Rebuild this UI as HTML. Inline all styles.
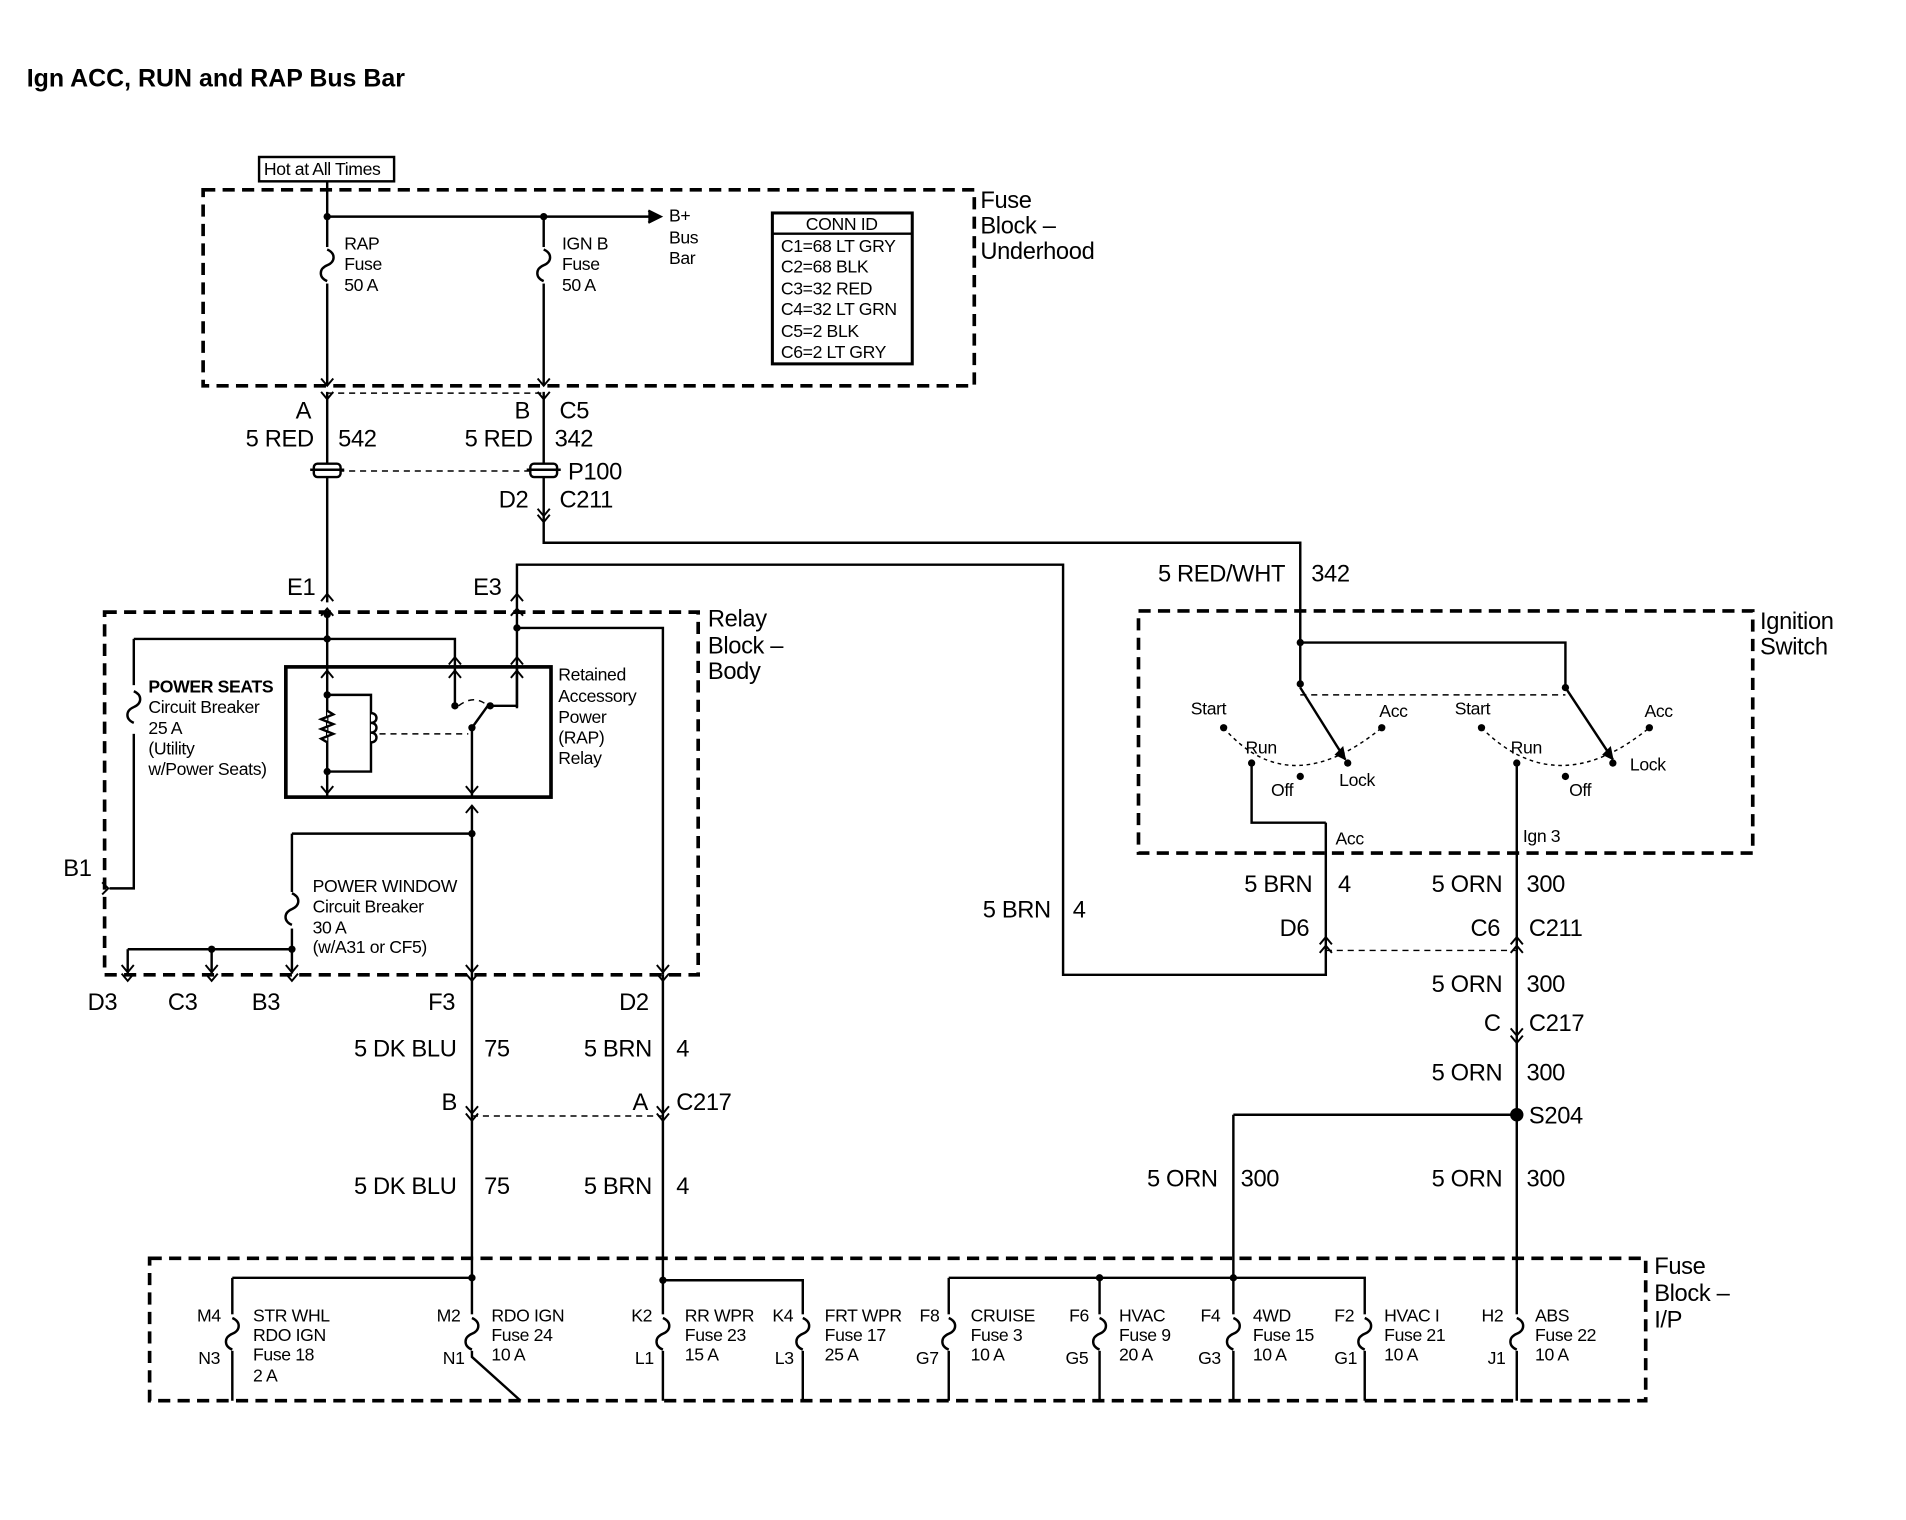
<!DOCTYPE html>
<html><head><meta charset="utf-8">
<style>
html,body{margin:0;padding:0;background:#fff;}
svg{display:block;}
text{font-family:"Liberation Sans",sans-serif;fill:#000;}
.s{font-size:14.5px;letter-spacing:-0.3px;}
.b{font-size:19.5px;letter-spacing:-0.3px;}
.t{font-size:20.5px;font-weight:bold;}
</style></head><body>
<svg width="1906" height="1520" viewBox="0 0 1567 1249" preserveAspectRatio="none" xmlns="http://www.w3.org/2000/svg">
<defs>
<path id="f" d="M0,0 c7,3 7,10 0,13 c-7,3 -7,10 0,13" fill="none" stroke="#000" stroke-width="2"/>
<path id="cd" d="M-5,-6 L0,0 L5,-6" fill="none" stroke="#000" stroke-width="1.6"/>
<path id="cu" d="M-5,6 L0,0 L5,6" fill="none" stroke="#000" stroke-width="1.6"/>
</defs>
<rect width="1567" height="1249" fill="#fff"/>
<text x="22" y="71" class="t">Ign ACC, RUN and RAP Bus Bar</text>

<g fill="none" stroke="#000">
<rect x="167" y="156" width="634" height="161" stroke-width="3" stroke-dasharray="10,6"/>
<rect x="86" y="503" width="488" height="298" stroke-width="3" stroke-dasharray="10,6"/>
<rect x="936" y="502" width="505" height="199" stroke-width="3" stroke-dasharray="10,6"/>
<rect x="123" y="1034" width="1230" height="117" stroke-width="3" stroke-dasharray="10,6"/>
<rect x="213" y="129" width="111" height="20" stroke-width="2"/>
<rect x="635" y="175" width="115" height="124" stroke-width="2.5"/>
<line x1="635" y1="192" x2="750" y2="192" stroke-width="2"/>
<rect x="235" y="548" width="218" height="107" stroke-width="3"/>

<g stroke-width="2">
<path d="M269,149 V317"/><path d="M269,178 H540"/><path d="M533,173 L543,178 L533,183" fill="#000"/>
<path d="M447,178 V317"/>
<path d="M269,322 V495"/><path d="M447,322 V446 H1069 V528"/>
<path d="M425,490 V464 H874 V801 H1090 V676"/>
<path d="M269,505 V655"/><path d="M110,525 H374 V548"/><path d="M110,525 V730 H90"/>
<path d="M425,490 V582 M425,516 H545 V801"/>
<path d="M269,571 H305 V634 H269"/>
<path d="M374,548 V580"/>
<path d="M425,548 V580 H403"/>
<path d="M388,598 V655"/><path d="M388,598 L401,580"/>
<path d="M388,662 V1050"/><path d="M240,685 H388"/><path d="M240,685 V800"/>
<path d="M105,780 H240"/><path d="M105,780 V800"/><path d="M174,780 V800"/>
<path d="M545,801 V1050"/>
<path d="M1069,528 H1287 V565"/><path d="M1069,528 V565"/>
<path d="M1069,565 L1106,624"/><path d="M1287,565 L1326,624"/>
<path d="M1029,627 V676 H1090"/>
<path d="M1247,627 V1151"/>
<path d="M1014,916 H1247"/><path d="M1014,916 V1151"/>
<path d="M191,1050 H388 M191,1050 V1151"/><path d="M388,1050 V1115 L428,1151"/>
<path d="M545,1052 H660 V1151 M545,1052 V1151"/>
<path d="M780,1050 H1122 V1151 M780,1050 V1151 M904,1050 V1151"/>
</g>
<path d="M1098,620 L1106,624 L1104,614 Z" fill="#000" stroke-width="1"/>
<path d="M1318,620 L1326,624 L1324,614 Z" fill="#000" stroke-width="1"/>
<path d="M269,584 l5,3 l-10,4 l10,4 l-10,4 l10,4 l-10,4 l5,3" fill="#fff" stroke-width="2"/>
<path d="M305,586 c6,0 6,8 0,8 c6,0 6,8 0,8 c6,0 6,8 0,8" fill="#fff" stroke-width="2"/>
<g stroke-width="1.2" stroke-dasharray="5,4">
<path d="M269,323 H447"/><path d="M269,387 H447"/><path d="M312,603 H385"/>
<path d="M1069,571 H1287"/><path d="M1090,781 H1247"/><path d="M388,917 H545"/>
<path d="M377,580 q13,-10 24,0"/>
</g>
<g stroke-width="1.2" stroke-dasharray="3,3">
<path d="M1006,598 Q1060,660 1136,598"/><path d="M1218,598 Q1280,660 1356,598"/>
</g>
<g stroke-width="2"><rect x="258" y="381" width="22" height="11" rx="3" fill="#fff"/><rect x="436" y="381" width="22" height="11" rx="3" fill="#fff"/>
<path d="M255,386 H283 M433,386 H461"/></g>
</g>
<g fill="#fff">
<rect x="263" y="203" width="12" height="30"/><rect x="441" y="203" width="12" height="30"/>
<rect x="104" y="563" width="12" height="40"/><rect x="234" y="733" width="12" height="30"/>
</g>
<use href="#f" x="269" y="205"/><use href="#f" x="447" y="205"/>
<use href="#f" x="110" y="568"/><use href="#f" x="240" y="734"/>
<g fill="#fff">
<rect x="185" y="1080" width="12" height="30"/><rect x="382" y="1080" width="12" height="30"/><rect x="539" y="1080" width="12" height="30"/><rect x="654" y="1080" width="12" height="30"/><rect x="774" y="1080" width="12" height="30"/><rect x="898" y="1080" width="12" height="30"/><rect x="1008" y="1080" width="12" height="30"/><rect x="1116" y="1080" width="12" height="30"/><rect x="1241" y="1080" width="12" height="30"/>
</g>
<use href="#f" x="191" y="1083"/><use href="#f" x="388" y="1083"/><use href="#f" x="545" y="1083"/><use href="#f" x="660" y="1083"/><use href="#f" x="780" y="1083"/><use href="#f" x="904" y="1083"/><use href="#f" x="1014" y="1083"/><use href="#f" x="1122" y="1083"/><use href="#f" x="1247" y="1083"/>
<use href="#cd" x="269" y="317"/><use href="#cd" x="447" y="317"/>
<use href="#cd" x="269" y="328"/><use href="#cd" x="447" y="328"/>
<use href="#cd" x="447" y="424"/><use href="#cd" x="447" y="429"/>
<use href="#cu" x="269" y="488"/><use href="#cu" x="269" y="500"/>
<use href="#cu" x="425" y="488"/><use href="#cu" x="425" y="500"/>
<use href="#cu" x="374" y="540"/><use href="#cu" x="425" y="540"/>
<use href="#cu" x="269" y="551"/><use href="#cu" x="374" y="551"/><use href="#cu" x="425" y="551"/>
<use href="#cd" x="269" y="652"/><use href="#cd" x="388" y="652"/>
<use href="#cu" x="388" y="662"/>
<path d="M84,725 L89,730 L84,735" fill="none" stroke="#000" stroke-width="1.6"/>
<use href="#cd" x="105" y="799"/><use href="#cd" x="174" y="799"/><use href="#cd" x="240" y="799"/><use href="#cd" x="388" y="799"/><use href="#cd" x="545" y="799"/>
<use href="#cd" x="105" y="806"/><use href="#cd" x="174" y="806"/><use href="#cd" x="240" y="806"/><use href="#cd" x="388" y="806"/><use href="#cd" x="545" y="806"/>
<use href="#cd" x="388" y="915"/><use href="#cd" x="545" y="915"/><use href="#cd" x="388" y="921"/><use href="#cd" x="545" y="921"/>
<use href="#cu" x="1090" y="770"/><use href="#cu" x="1247" y="770"/><use href="#cu" x="1090" y="777"/><use href="#cu" x="1247" y="777"/>
<use href="#cd" x="1247" y="851"/><use href="#cd" x="1247" y="857"/>
<g fill="#000">
<circle cx="269" cy="178" r="3"/><circle cx="447" cy="178" r="3"/>
<circle cx="269" cy="505" r="3"/><circle cx="269" cy="525" r="3"/><circle cx="425" cy="516" r="3"/>
<circle cx="269" cy="571" r="3"/><circle cx="269" cy="634" r="3"/><circle cx="374" cy="580" r="3"/><circle cx="403" cy="580" r="3"/><circle cx="388" cy="598" r="3"/>
<circle cx="388" cy="685" r="3"/><circle cx="240" cy="780" r="3"/><circle cx="174" cy="780" r="3"/>
<circle cx="1069" cy="528" r="3"/><circle cx="1069" cy="562" r="3"/><circle cx="1287" cy="565" r="3"/>
<circle cx="1006" cy="598" r="3"/><circle cx="1029" cy="627" r="3"/><circle cx="1069" cy="638" r="3"/><circle cx="1108" cy="627" r="3"/><circle cx="1136" cy="598" r="3"/>
<circle cx="1218" cy="598" r="3"/><circle cx="1247" cy="627" r="3"/><circle cx="1287" cy="638" r="3"/><circle cx="1326" cy="627" r="3"/><circle cx="1356" cy="598" r="3"/>
<circle cx="1247" cy="916" r="5.5"/>
<circle cx="388" cy="1050" r="3"/><circle cx="545" cy="1052" r="3"/><circle cx="904" cy="1050" r="3"/><circle cx="1014" cy="1050" r="3"/>
</g>

<text x="217" y="144" class="s">Hot at All Times</text>
<text class="b"><tspan x="806" y="171">Fuse</tspan><tspan x="806" y="192">Block –</tspan><tspan x="806" y="213">Underhood</tspan></text>
<text class="s"><tspan x="283" y="205">RAP</tspan><tspan x="283" y="222">Fuse</tspan><tspan x="283" y="239">50 A</tspan></text>
<text class="s"><tspan x="462" y="205">IGN B</tspan><tspan x="462" y="222">Fuse</tspan><tspan x="462" y="239">50 A</tspan></text>
<text class="s"><tspan x="550" y="182">B+</tspan><tspan x="550" y="200">Bus</tspan><tspan x="550" y="217">Bar</tspan></text>
<text x="692" y="189" class="s" text-anchor="middle">CONN ID</text>
<text class="s"><tspan x="642" y="207">C1=68 LT GRY</tspan><tspan x="642" y="224">C2=68 BLK</tspan><tspan x="642" y="242">C3=32 RED</tspan><tspan x="642" y="259">C4=32 LT GRN</tspan><tspan x="642" y="277">C5=2 BLK</tspan><tspan x="642" y="294">C6=2 LT GRY</tspan></text>
<g>
<text x="243" y="344" class="b">A</text><text x="423" y="344" class="b">B</text><text x="460" y="344" class="b">C5</text>
<text x="202" y="367" class="b">5 RED</text><text x="278" y="367" class="b">542</text>
<text x="382" y="367" class="b">5 RED</text><text x="456" y="367" class="b">342</text>
<text x="467" y="394" class="b">P100</text>
<text x="410" y="417" class="b">D2</text><text x="460" y="417" class="b">C211</text>
<text x="236" y="489" class="b">E1</text><text x="389" y="489" class="b">E3</text>
<text x="952" y="478" class="b">5 RED/WHT</text><text x="1078" y="478" class="b">342</text>
<text class="b"><tspan x="582" y="515">Relay</tspan><tspan x="582" y="537">Block –</tspan><tspan x="582" y="558">Body</tspan></text>
<text class="b"><tspan x="1447" y="517">Ignition</tspan><tspan x="1447" y="538">Switch</tspan></text>
<text x="52" y="720" class="b">B1</text>
<text x="72" y="830" class="b">D3</text><text x="138" y="830" class="b">C3</text><text x="207" y="830" class="b">B3</text>
<text x="352" y="830" class="b">F3</text><text x="509" y="830" class="b">D2</text>
<text x="291" y="868" class="b">5 DK BLU</text><text x="398" y="868" class="b">75</text>
<text x="480" y="868" class="b">5 BRN</text><text x="556" y="868" class="b">4</text>
<text x="363" y="912" class="b">B</text><text x="520" y="912" class="b">A</text><text x="556" y="912" class="b">C217</text>
<text x="291" y="981" class="b">5 DK BLU</text><text x="398" y="981" class="b">75</text>
<text x="480" y="981" class="b">5 BRN</text><text x="556" y="981" class="b">4</text>
<text x="1023" y="733" class="b">5 BRN</text><text x="1100" y="733" class="b">4</text>
<text x="1177" y="733" class="b">5 ORN</text><text x="1255" y="733" class="b">300</text>
<text x="808" y="754" class="b">5 BRN</text><text x="882" y="754" class="b">4</text>
<text x="1052" y="769" class="b">D6</text><text x="1209" y="769" class="b">C6</text><text x="1257" y="769" class="b">C211</text>
<text x="1177" y="815" class="b">5 ORN</text><text x="1255" y="815" class="b">300</text>
<text x="1220" y="847" class="b">C</text><text x="1257" y="847" class="b">C217</text>
<text x="1177" y="888" class="b">5 ORN</text><text x="1255" y="888" class="b">300</text>
<text x="1257" y="923" class="b">S204</text>
<text x="943" y="975" class="b">5 ORN</text><text x="1020" y="975" class="b">300</text>
<text x="1177" y="975" class="b">5 ORN</text><text x="1255" y="975" class="b">300</text>
<text class="b"><tspan x="1360" y="1047">Fuse</tspan><tspan x="1360" y="1069">Block –</tspan><tspan x="1360" y="1091">I/P</tspan></text>
</g>
<text class="s"><tspan x="122" y="569" font-weight="bold">POWER SEATS</tspan><tspan x="122" y="586">Circuit Breaker</tspan><tspan x="122" y="603">25 A</tspan><tspan x="122" y="620">(Utility</tspan><tspan x="122" y="637">w/Power Seats)</tspan></text>
<text class="s"><tspan x="459" y="559">Retained</tspan><tspan x="459" y="577">Accessory</tspan><tspan x="459" y="594">Power</tspan><tspan x="459" y="611">(RAP)</tspan><tspan x="459" y="628">Relay</tspan></text>
<text class="s"><tspan x="257" y="733">POWER WINDOW</tspan><tspan x="257" y="750">Circuit Breaker</tspan><tspan x="257" y="767">30 A</tspan><tspan x="257" y="783">(w/A31 or CF5)</tspan></text>
<text class="s" x="979" y="587">Start</text><text class="s" x="1024" y="619">Run</text><text class="s" x="1045" y="654">Off</text><text class="s" x="1101" y="646">Lock</text><text class="s" x="1134" y="589">Acc</text>
<text class="s" x="1196" y="587">Start</text><text class="s" x="1242" y="619">Run</text><text class="s" x="1290" y="654">Off</text><text class="s" x="1340" y="633">Lock</text><text class="s" x="1352" y="589">Acc</text>
<text class="s" x="1098" y="694">Acc</text><text class="s" x="1252" y="692">Ign 3</text>
<g class="s">
<text x="162" y="1086">M4</text><text x="163" y="1121">N3</text>
<text x="208" y="1086">STR WHL</text><text x="208" y="1102">RDO IGN</text><text x="208" y="1118">Fuse 18</text><text x="208" y="1135">2 A</text>
<text x="359" y="1086">M2</text><text x="364" y="1121">N1</text>
<text x="404" y="1086">RDO IGN</text><text x="404" y="1102">Fuse 24</text><text x="404" y="1118">10 A</text>
<text x="519" y="1086">K2</text><text x="522" y="1121">L1</text>
<text x="563" y="1086">RR WPR</text><text x="563" y="1102">Fuse 23</text><text x="563" y="1118">15 A</text>
<text x="635" y="1086">K4</text><text x="637" y="1121">L3</text>
<text x="678" y="1086">FRT WPR</text><text x="678" y="1102">Fuse 17</text><text x="678" y="1118">25 A</text>
<text x="756" y="1086">F8</text><text x="753" y="1121">G7</text>
<text x="798" y="1086">CRUISE</text><text x="798" y="1102">Fuse 3</text><text x="798" y="1118">10 A</text>
<text x="879" y="1086">F6</text><text x="876" y="1121">G5</text>
<text x="920" y="1086">HVAC</text><text x="920" y="1102">Fuse 9</text><text x="920" y="1118">20 A</text>
<text x="987" y="1086">F4</text><text x="985" y="1121">G3</text>
<text x="1030" y="1086">4WD</text><text x="1030" y="1102">Fuse 15</text><text x="1030" y="1118">10 A</text>
<text x="1097" y="1086">F2</text><text x="1097" y="1121">G1</text>
<text x="1138" y="1086">HVAC I</text><text x="1138" y="1102">Fuse 21</text><text x="1138" y="1118">10 A</text>
<text x="1218" y="1086">H2</text><text x="1223" y="1121">J1</text>
<text x="1262" y="1086">ABS</text><text x="1262" y="1102">Fuse 22</text><text x="1262" y="1118">10 A</text>
</g>
</svg>
</body></html>
